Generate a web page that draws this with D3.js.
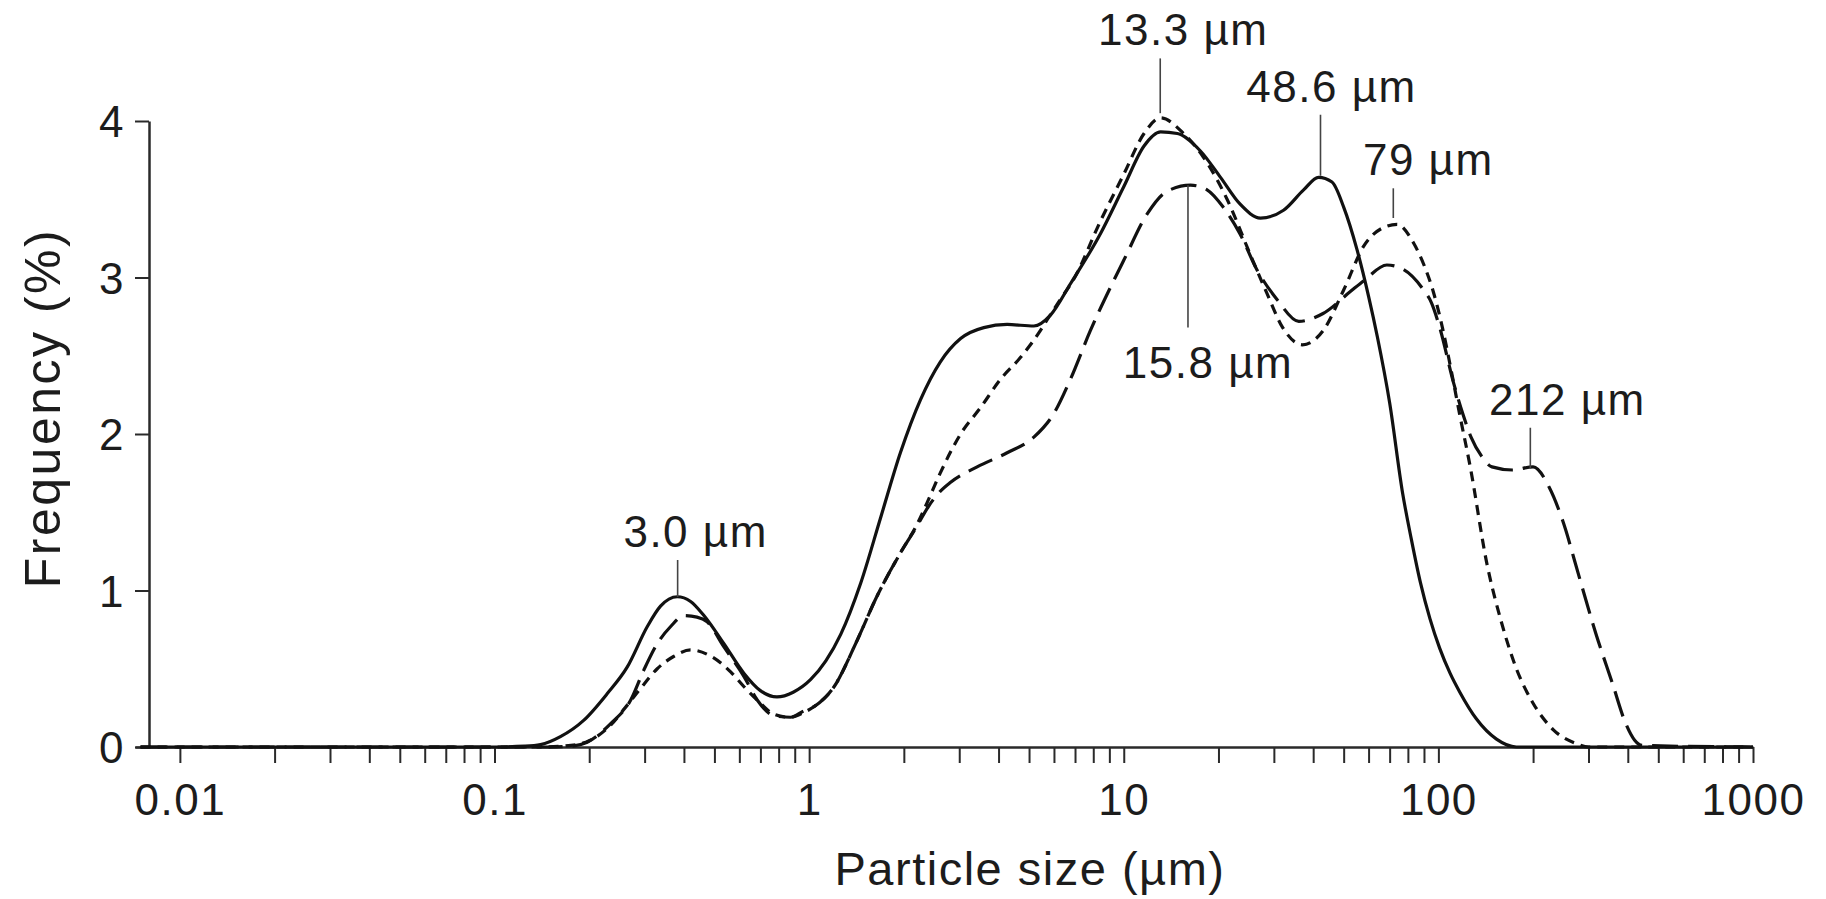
<!DOCTYPE html>
<html>
<head>
<meta charset="utf-8">
<script src="https://cdn.jsdelivr.net/npm/d3@7"></script>
<style>
  html, body { margin: 0; padding: 0; background: #fff; }
  text { font-family: "Liberation Sans", Arial, sans-serif; fill: #1c1c1c; }
</style>
</head>
<body>
<svg id="chart" width="1826" height="899"></svg>
<script>
// ---- data ----
var xTickLabels = ["0.01", "0.1", "1", "10", "100", "1000"];
var yTickLabels = [0, 1, 2, 3, 4];

// solid curve
var solidSize = [0.0075, 0.1, 0.125, 0.14, 0.162, 0.192, 0.228, 0.264, 0.306, 0.337, 0.381, 0.42, 0.463, 0.536, 0.621, 0.70, 0.79, 0.89, 1.01, 1.13, 1.26, 1.46, 1.69, 1.95, 2.26, 2.61, 3.03, 3.59, 4.26, 5.18, 5.85, 6.77, 8.43, 10.0, 11.6, 13.1, 14.8, 17.5, 20.3, 23.4, 27.2, 32.2, 37.3, 41.6, 45.9, 50.0, 55.1, 60, 64, 70, 77, 82, 87.7, 94, 101, 109, 117, 132, 153, 177, 1000];
var solidFreq = [0, 0, 0.005, 0.015, 0.066, 0.17, 0.34, 0.51, 0.77, 0.90, 0.96, 0.93, 0.84, 0.66, 0.47, 0.36, 0.32, 0.35, 0.43, 0.55, 0.72, 1.05, 1.47, 1.88, 2.22, 2.46, 2.61, 2.68, 2.70, 2.69, 2.76, 2.96, 3.28, 3.58, 3.84, 3.93, 3.92, 3.81, 3.64, 3.47, 3.38, 3.43, 3.56, 3.64, 3.61, 3.45, 3.18, 2.88, 2.62, 2.2, 1.62, 1.33, 1.05, 0.82, 0.63, 0.47, 0.35, 0.18, 0.05, 0, 0];

// short-dash curve
var dottedSize = [0.0075, 0.14, 0.175, 0.2, 0.234, 0.26, 0.29, 0.329, 0.372, 0.42, 0.487, 0.563, 0.621, 0.684, 0.773, 0.87, 0.96, 1.04, 1.2, 1.42, 1.64, 1.95, 2.2, 2.37, 2.61, 3.03, 3.51, 4.06, 4.70, 5.43, 5.71, 6.29, 6.94, 8.43, 10.0, 11.6, 13.1, 15.5, 17.9, 21.3, 25.2, 28.5, 32, 37, 43, 50, 57.9, 67, 73.9, 83.4, 90, 96, 103, 110, 117, 126, 143, 158, 177, 200, 232, 276, 300, 1000];
var dottedFreq = [0, 0, 0.01, 0.04, 0.14, 0.25, 0.37, 0.50, 0.58, 0.62, 0.58, 0.48, 0.385, 0.30, 0.21, 0.19, 0.22, 0.26, 0.385, 0.68, 0.96, 1.24, 1.42, 1.56, 1.75, 2.00, 2.17, 2.35, 2.49, 2.66, 2.73, 2.86, 2.99, 3.36, 3.66, 3.92, 4.02, 3.92, 3.77, 3.50, 3.15, 2.90, 2.68, 2.57, 2.66, 2.92, 3.20, 3.32, 3.34, 3.22, 3.08, 2.92, 2.68, 2.40, 2.12, 1.80, 1.16, 0.81, 0.50, 0.28, 0.11, 0.02, 0, 0];

// long-dash curve
var dashedSize = [0.0075, 0.15, 0.175, 0.197, 0.234, 0.271, 0.298, 0.329, 0.363, 0.40, 0.44, 0.474, 0.536, 0.621, 0.684, 0.773, 0.873, 0.96, 1.04, 1.2, 1.42, 1.64, 1.95, 2.2, 2.4, 2.6, 2.81, 3.42, 4.26, 5.18, 5.99, 6.77, 7.83, 9.29, 10.0, 11.9, 13.7, 16.3, 18.4, 20.7, 23.4, 26.5, 30.7, 36, 43, 52.5, 58, 68.6, 77.6, 89.7, 95, 101, 112, 120, 127, 137, 148, 172, 200, 225, 248, 280, 316, 357, 394, 420, 445, 1000];
var dashedFreq = [0, 0, 0.005, 0.03, 0.15, 0.30, 0.49, 0.66, 0.77, 0.84, 0.83, 0.80, 0.64, 0.45, 0.30, 0.20, 0.19, 0.23, 0.26, 0.385, 0.68, 0.96, 1.24, 1.41, 1.54, 1.63, 1.69, 1.79, 1.88, 1.98, 2.13, 2.35, 2.66, 2.98, 3.11, 3.41, 3.55, 3.59, 3.56, 3.45, 3.28, 3.05, 2.86, 2.72, 2.77, 2.91, 2.98, 3.08, 3.05, 2.92, 2.84, 2.68, 2.32, 2.12, 1.98, 1.86, 1.79, 1.77, 1.79, 1.66, 1.45, 1.09, 0.73, 0.41, 0.15, 0.045, 0.01, 0];

// peak annotations: label, size at leader, leader top / bottom (frequency)
var peakLabels = ["3.0 µm", "13.3 µm", "48.6 µm", "79 µm", "15.8 µm", "212 µm"];
var peakSize = [0.382, 13.06, 42.2, 71.9, 16.0, 196];
var leaderTop = [1.195, 4.40, 4.04, 3.57, 3.59, 2.04];
var leaderBottom = [0.958, 4.05, 3.65, 3.38, 2.68, 1.78];
var labelBelow = [false, false, false, false, true, false];

// ---- layout ----
var W = 1826, H = 899;
var labelDx = [18, 23, 11, 35, 20, 37];
var svg = d3.select("#chart");
svg.append("rect").attr("width", W).attr("height", H).attr("fill", "#fff");

var x = d3.scaleLog().domain([0.0072, 1000]).range([135, 1753]);
var y = d3.scaleLinear().domain([0, 4]).range([747, 121]);
var yAxisX = 149;

// minor + major ticks of the log axis
var xTicks = [];
for (var e = -2; e < 3; e++) {
	for (var m = 1; m < 10; m++) {
		xTicks.push(m * Math.pow(10, e));
	}
}
xTicks.push(1000);

var xAxis = d3.axisBottom(x)
	.tickValues(xTicks)
	.tickSize(16)
	.tickSizeOuter(0)
	.tickPadding(10)
	.tickFormat(function (d) {
		var i = xTickLabels.indexOf(String(+d.toPrecision(3)));
		return i >= 0 ? xTickLabels[i] : "";
	});

var gx = svg.append("g")
	.attr("transform", "translate(0," + y(0) + ")")
	.call(xAxis);

var yAxis = d3.axisLeft(y)
	.tickValues(yTickLabels)
	.tickSize(14)
	.tickSizeOuter(0)
	.tickPadding(10)
	.tickFormat(d3.format("d"));

var gy = svg.append("g")
	.attr("transform", "translate(" + yAxisX + ",0)")
	.call(yAxis);

[gx, gy].forEach(function (g) {
	g.selectAll("path.domain").attr("stroke", "#2a2a2a").attr("stroke-width", 2.5);
	g.selectAll(".tick line").attr("stroke", "#2a2a2a").attr("stroke-width", 2);
	g.selectAll(".tick text")
		.style("font-family", "'Liberation Sans', Arial, sans-serif")
		.style("font-size", "44px")
		.style("letter-spacing", "1.5px")
		.attr("fill", "#1c1c1c");
});
gx.selectAll(".tick text").attr("dy", "0.95em");
gy.selectAll(".tick text").attr("dy", "0.36em");

// axis titles
svg.append("text")
	.attr("x", 1030)
	.attr("y", 885)
	.attr("text-anchor", "middle")
	.style("font-size", "47px")
	.style("letter-spacing", "1.5px")
	.text("Particle size (µm)");

svg.append("text")
	.attr("transform", "translate(60,408) rotate(-90)")
	.attr("text-anchor", "middle")
	.style("font-size", "50px")
	.style("letter-spacing", "2.5px")
	.text("Frequency (%)");

// curves
var line = d3.line()
	.x(function (d) { return x(d[0]); })
	.y(function (d) { return y(d[1]); })
	.curve(d3.curveMonotoneX);

function zip(a, b) {
	return a.map(function (v, i) { return [v, b[i]]; });
}

var series = [
	{ data: zip(dashedSize, dashedFreq), dash: "26,10", width: 3.2 },
	{ data: zip(dottedSize, dottedFreq), dash: "10,7", width: 3.2 },
	{ data: zip(solidSize, solidFreq), dash: null, width: 3.2 }
];

svg.append("g").selectAll("path")
	.data(series)
	.enter().append("path")
	.attr("d", function (d) { return line(d.data); })
	.attr("fill", "none")
	.attr("stroke", "#111")
	.attr("stroke-width", function (d) { return d.width; })
	.attr("stroke-dasharray", function (d) { return d.dash; })
	.attr("stroke-linejoin", "round");

// peak leaders and labels
var ann = svg.append("g");
peakLabels.forEach(function (lab, i) {
	var px = x(peakSize[i]);
	ann.append("line")
		.attr("x1", px).attr("x2", px)
		.attr("y1", y(leaderTop[i])).attr("y2", y(leaderBottom[i]))
		.attr("stroke", "#444")
		.attr("stroke-width", 1.6);
	var ty = labelBelow[i] ? y(leaderBottom[i]) + 50 : y(leaderTop[i]) - 13;
	ann.append("text")
		.attr("x", px + labelDx[i])
		.attr("y", ty)
		.attr("text-anchor", "middle")
		.style("font-size", "44px")
		.style("letter-spacing", "1.5px")
		.text(lab);
});
</script>
</body>
</html>
